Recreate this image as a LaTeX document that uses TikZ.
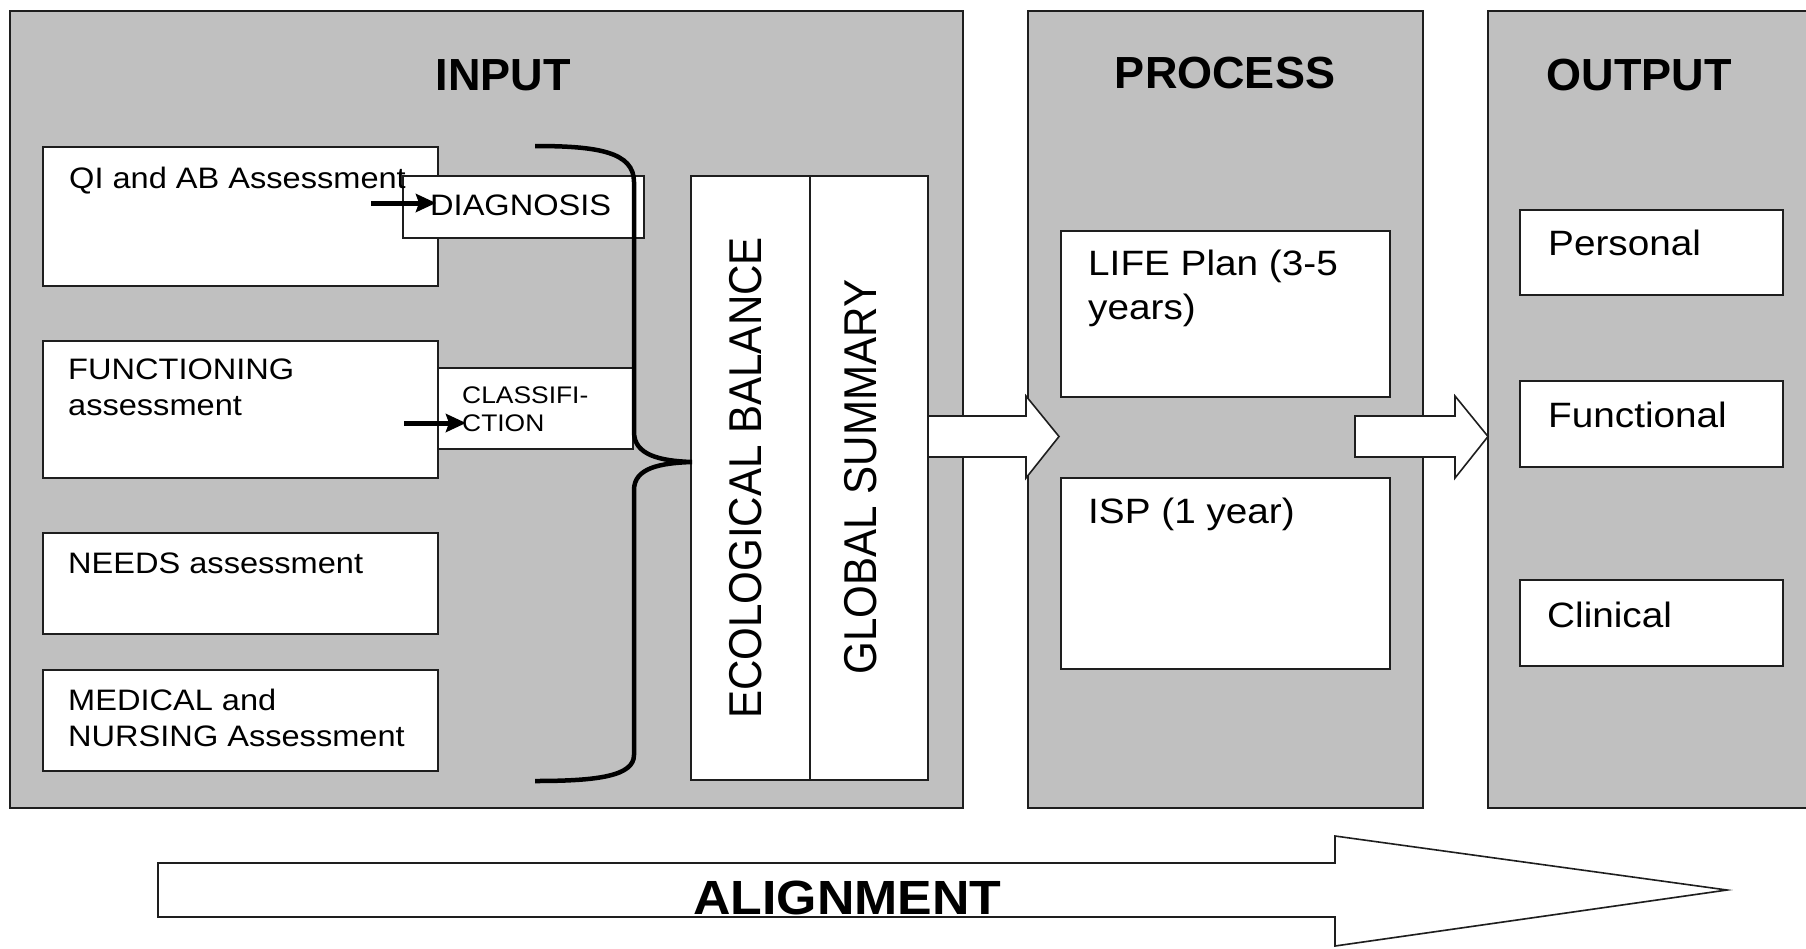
\documentclass[tikz,border=0pt]{standalone}
\usepackage{fontspec}
\setmainfont{Liberation Sans}
\newfontfamily\bodyf[FakeStretch=1.1]{Liberation Sans}
\newfontfamily\rotf[FakeStretch=0.915]{Liberation Sans}
\newfontfamily\alignf[FakeStretch=1.08]{Liberation Sans}
\usetikzlibrary{arrows.meta}
\definecolor{panelgray}{HTML}{C0C0C0}
\definecolor{edge}{HTML}{1E1E1E}
\begin{document}
\begin{tikzpicture}[x=1pt,y=-1pt,
  panel/.style={draw=edge, line width=1.8pt, fill=panelgray, inner sep=0pt, outer sep=0pt, anchor=north west},
  wbox/.style={draw=edge, line width=1.8pt, fill=white, inner sep=0pt, outer sep=0pt, anchor=north west},
  intxt/.style={font={\bodyf\fontsize{29.6}{36}\selectfont}, anchor=base west, inner sep=0pt},
  smtxt/.style={font={\bodyf\fontsize{24}{28}\selectfont}, anchor=base west, inner sep=0pt},
  prtxt/.style={font={\bodyf\fontsize{35.2}{40}\selectfont}, anchor=base west, inner sep=0pt},
  title/.style={font={\bfseries\fontsize{45}{50}\selectfont}, anchor=base, inner sep=0pt},
  rottxt/.style={font={\rotf\fontsize{46}{50}\selectfont}, rotate=90, inner sep=0pt},
  smallarrow/.style={line width=5pt, -{Stealth[length=20pt,width=18pt,inset=3pt]}},
  blockarrow/.style={draw=edge, line width=1.6pt, fill=white, line join=miter},
  bracestyle/.style={line width=4.5pt, line cap=butt}
]
\useasboundingbox (0,0) rectangle (1806,948);
\fill[white] (0,0) rectangle (1806,948);
\clip (0,0) rectangle (1806,948);

% panels
\node[panel, minimum width=953pt, minimum height=797pt] (inp) at (10,11) {};
\node[panel, minimum width=395pt, minimum height=797pt] (proc) at (1028,11) {};
\node[panel, minimum width=360pt, minimum height=797pt] (outp) at (1488,11) {};

% titles
\node[title] (tin) at (503,90) {INPUT};
\node[title] (tproc) at (1225,88.3) {PROCESS};
\node[title] (tout) at (1639,90.7) {OUTPUT};

% input boxes
\node[wbox, minimum width=395pt, minimum height=139pt] (qi) at (43,147) {};
\node[wbox, minimum width=241pt, minimum height=62pt] (diag) at (403,176) {};
\node[wbox, minimum width=395pt, minimum height=137pt] (func) at (43,341) {};
\node[wbox, minimum width=195pt, minimum height=81pt] (class) at (438,368) {};
\node[wbox, minimum width=395pt, minimum height=101pt] (needs) at (43,533) {};
\node[wbox, minimum width=395pt, minimum height=101pt] (med) at (43,670) {};

% eco / global
\node[wbox, minimum width=119pt, minimum height=604pt] (eco) at (691,176) {};
\node[wbox, minimum width=118pt, minimum height=604pt] (glob) at (810,176) {};

% process boxes
\node[wbox, minimum width=329pt, minimum height=166pt] (life) at (1061,231) {};
\node[wbox, minimum width=329pt, minimum height=191pt] (isp) at (1061,478) {};

% output boxes
\node[wbox, minimum width=263pt, minimum height=85pt] (pers) at (1520,210) {};
\node[wbox, minimum width=263pt, minimum height=86pt] (funo) at (1520,381) {};
\node[wbox, minimum width=263pt, minimum height=86pt] (clin) at (1520,580) {};

% texts
\node[intxt] (tqi) at (69,188) {QI and AB Assessment};
\node[intxt] (tdiag) at (430,215) {DIAGNOSIS};
\node[intxt] (tfun1) at (68,379) {FUNCTIONING};
\node[intxt] (tfun2) at (68,415) {assessment};
\node[smtxt] (tcl1) at (462,403) {CLASSIFI-};
\node[smtxt] (tcl2) at (462,431) {CTION};
\node[intxt] (tneeds) at (68,573) {NEEDS assessment};
\node[intxt] (tmed1) at (68,710) {MEDICAL and};
\node[intxt] (tmed2) at (68,746.7) {NURSING Assessment};
\node[rottxt] (teco) at (746,478) {ECOLOGICAL BALANCE};
\node[rottxt] (tglob) at (861,477) {GLOBAL SUMMARY};
\node[prtxt] (tlife1) at (1088,275) {LIFE Plan (3-5};
\node[prtxt] (tlife2) at (1088,319) {years)};
\node[prtxt] (tisp) at (1088,523) {ISP (1 year)};
\node[prtxt] (tpers) at (1548,255) {Personal};
\node[prtxt] (tfuno) at (1548,427) {Functional};
\node[prtxt] (tclin) at (1547,627) {Clinical};

% small arrows
\coordinate (a1s) at (371,203);
\coordinate (a1e) at (436,203);
\coordinate (a2s) at (404,423);
\coordinate (a2e) at (466,423);
\draw[smallarrow] (a1s) -- (a1e);
\draw[smallarrow] (a2s) -- (a2e);

% brace
\draw[bracestyle] (535,146) .. controls (598,146) and (634,152) .. (634,182)
  -- (634,432) .. controls (634,455) and (660,461) .. (692,462)
  .. controls (660,463) and (634,468) .. (634,490)
  -- (634,755) .. controls (634,776) and (598,781) .. (535,781);

% block arrows
\draw[blockarrow] (928,416) -- (1026,416) -- (1026,396) -- (1059,436.5) -- (1026,478) -- (1026,457) -- (928,457) -- cycle;
\draw[blockarrow] (1355,416) -- (1455,416) -- (1455,396) -- (1488,436.5) -- (1455,478) -- (1455,457) -- (1355,457) -- cycle;
\draw[blockarrow] (158,863) -- (1335,863) -- (1335,836) -- (1727,890) -- (1335,946) -- (1335,917) -- (158,917) -- cycle;
\node[font={\alignf\bfseries\fontsize{48}{52}\selectfont}, anchor=base west, inner sep=0pt] (talign) at (693,914) {ALIGNMENT};
\end{tikzpicture}
\end{document}
